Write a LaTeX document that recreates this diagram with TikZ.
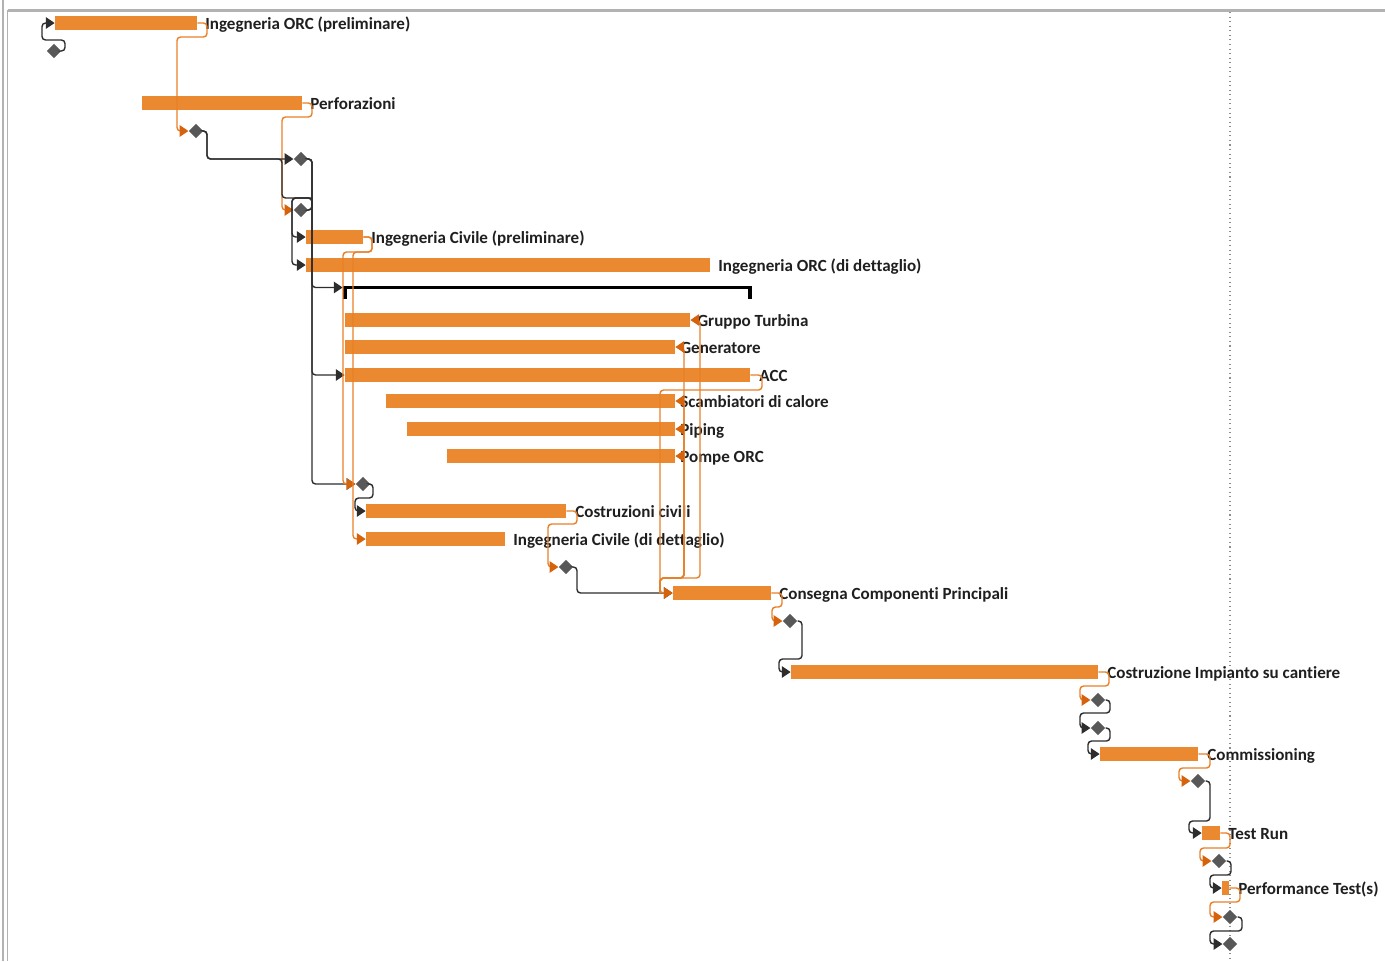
\documentclass[tikz,border=0pt]{standalone}
\usepackage{fontspec}
\setmainfont{Carlito}[Ligatures=NoCommon]
\usetikzlibrary{arrows.meta, shapes.geometric}

\definecolor{barorange}{RGB}{235,137,48}
\definecolor{linkorange}{RGB}{232,128,40}
\definecolor{tiporange}{RGB}{214,98,12}
\definecolor{linkgray}{RGB}{45,45,45}
\definecolor{msgray}{RGB}{88,88,88}

\tikzset{
  taskbar/.style={fill=barorange, minimum height=0.27cm, inner sep=0pt},
  milestone/.style={diamond, fill=msgray, minimum size=0.29cm, inner sep=0pt},
  tasklabel/.style={anchor=base west, inner sep=0pt, font=\bfseries\fontsize{9.7}{11}\selectfont, text=black!88},
  link/.style={draw=linkgray, line width=0.8pt, rounded corners=2pt, -{Triangle[length=5pt, width=6.5pt]}},
  critlink/.style={draw=linkorange, line width=0.8pt, rounded corners=2pt, -{Triangle[length=5pt, width=6.5pt, color=tiporange]}},
}

% bar: [label gap]{name}{start}{end}{row}{text}
\newcommand{\task}[6][8]{%
  \node[taskbar, minimum width={(#4-#3)*0.02cm}] (#2) at ({(#3+#4)/2},#5) {};
  \node[tasklabel] (#2-l) at ({#4+#1},{#5+6}) {#6};}

\begin{document}
\begin{tikzpicture}[x=0.02cm, y=-0.02cm]
\useasboundingbox (0,0) rectangle (1385,961);

% frame and status date
\draw[black!30, line width=0.6pt] (3,0) -- (3,961);
\draw[black!30, line width=0.6pt] (7.5,10) -- (7.5,961);
\draw[black!30, line width=1.2pt] (7.5,10.5) -- (1385,10.5);
\draw[black!45, dotted, line width=0.6pt] (1230,12) -- (1230,961);

% tasks
\task{ingorc}{55}{197}{23}{Ingegneria ORC (preliminare)}
\task{perf}{142}{302}{103}{Perforazioni}
\task{ingcivp}{306}{363}{237}{Ingegneria Civile (preliminare)}
\task{ingorcd}{306}{710}{265}{Ingegneria ORC (di dettaglio)}
\task[7]{turb}{345}{690}{320}{Gruppo Turbina}
\task[5]{gen}{345}{675}{347}{Generatore}
\task[9]{acc}{345}{750}{375}{ACC}
\task[5]{scamb}{386}{675}{401}{Scambiatori di calore}
\task[5]{piping}{407}{675}{429}{Piping}
\task[5]{pompe}{447}{675}{456}{Pompe ORC}
\task[9]{costciv}{366}{566}{511}{Costruzioni civili}
\task{ingcivd}{366}{505}{539}{Ingegneria Civile (di dettaglio)}
\task{consegna}{673}{771}{593}{Consegna Componenti Principali}
\task[9]{cantiere}{791}{1098}{672}{Costruzione Impianto su cantiere}
\task[9]{comm}{1100}{1198}{754}{Commissioning}
\task{testrun}{1202}{1220}{833}{Test Run}
\task[9]{perftest}{1222}{1229}{888}{Performance Test(s)}

% summary bar
\node[fill=black, minimum width={(752-343)*0.02cm}, minimum height=0.06cm, inner sep=0pt] (summ) at (547.5,287.5) {};
\fill (343,286) rectangle (347,299);
\fill (748,286) rectangle (752,299);

% milestones
\node[milestone] (m1) at (54,51) {};
\node[milestone] (m2) at (196,131) {};
\node[milestone] (m3) at (301,159) {};
\node[milestone] (m4) at (301,210) {};
\node[milestone] (m5) at (363,484) {};
\node[milestone] (m6) at (566,567) {};
\node[milestone] (m7) at (790,621) {};
\node[milestone] (m8) at (1098,700) {};
\node[milestone] (m9) at (1098,728) {};
\node[milestone] (m10) at (1198,781) {};
\node[milestone] (m11) at (1219,861) {};
\node[milestone] (m12) at (1230,917) {};
\node[milestone] (m13) at (1230,944) {};
\coordinate (cj) at (660,593);

% links
\draw[link] (m1.east) -- (65,51) -- (65,40) -- (42,40) |- (ingorc.west);
\draw[critlink] (ingorc.east) -- (207,23) -- (207,37) -- (177,37) |- (m2.west);
\draw[critlink] (perf.east) -- (312,103) -- (312,117) -- (282,117) |- (m4.west);
\draw[link, -] (m2.east) -- (207,131) |- (282,159) |- (312,198);
\draw[link] (m2.east) -- (207,131) |- (m3.west);
\draw[link] (m3.east) -- (312,159) |- (summ.west);
\draw[link] (m3.east) -- (312,159) |- (acc.west);
\draw[link] (m3.east) -- (312,159) |- (m5.west);
\draw[link] (m4.east) -- (312,210) -- (312,198) -- (292,198) |- (ingcivp.west);
\draw[link] (m4.east) -- (312,210) -- (312,198) -- (292,198) |- (ingorcd.west);
\draw[critlink] (ingcivp.east) -- (372,237) -- (372,252) -- (343,252) |- (m5.west);
\draw[critlink] (ingcivp.east) -- (372,237) -- (372,252) -- (353,252) |- (ingcivd.west);
\draw[link] (m5.east) -- (373,484) -- (373,498) -- (355,498) |- (costciv.west);
\draw[critlink] (costciv.east) -- (577,511) -- (577,524) -- (548,524) |- (m6.west);
\draw[link] (m6.east) -- (577,567) |- (consegna.west);
\draw[critlink] (acc.east) -- (762,375) -- (762,390) -- (660,390) |- (consegna.west);
\draw[critlink] (cj) |- (700,578) |- (turb.east);
\draw[critlink] (cj) |- (684,578) |- (gen.east);
\draw[critlink] (cj) |- (684,578) |- (scamb.east);
\draw[critlink] (cj) |- (684,578) |- (piping.east);
\draw[critlink] (cj) |- (684,578) |- (pompe.east);
\draw[critlink] (consegna.east) -- (782,593) -- (782,607) -- (772,607) |- (m7.west);
\draw[link] (m7.east) -- (802,621) -- (802,659) -- (779,659) |- (cantiere.west);
\draw[critlink] (cantiere.east) -- (1109,672) -- (1109,686) -- (1080,686) |- (m8.west);
\draw[link] (m8.east) -- (1110,700) -- (1110,713) -- (1080,713) |- (m9.west);
\draw[link] (m9.east) -- (1110,728) -- (1110,741) -- (1088,741) |- (comm.west);
\draw[critlink] (comm.east) -- (1210,754) -- (1210,768) -- (1179,768) |- (m10.west);
\draw[link] (m10.east) -- (1210,781) -- (1210,821) -- (1189,821) |- (testrun.west);
\draw[critlink] (testrun.east) -- (1230,833) -- (1230,848) -- (1200,848) |- (m11.west);
\draw[link] (m11.east) -- (1231,861) -- (1231,875) -- (1210,875) |- (perftest.west);
\draw[critlink] (perftest.east) -- (1240,888) -- (1240,902) -- (1210,902) |- (m12.west);
\draw[link] (m12.east) -- (1242,917) -- (1242,931) -- (1210,931) |- (m13.west);
\end{tikzpicture}
\end{document}
